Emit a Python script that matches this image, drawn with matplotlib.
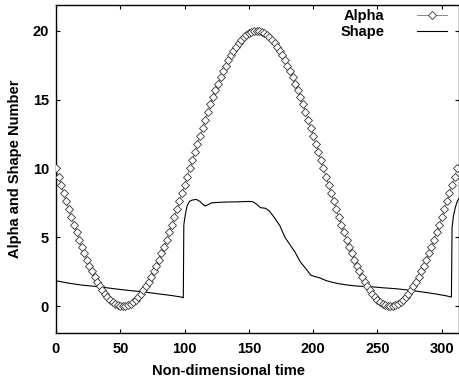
import numpy as np
import matplotlib
matplotlib.use("Agg")
import matplotlib.pyplot as plt

plt.rcParams['font.family'] = ['Liberation Sans', 'DejaVu Sans']
plt.rcParams['font.weight'] = 'bold'

alpha_t = np.arange(0, 314, 2)
alpha = [10.0, 9.40, 8.80, 8.20, 7.61, 7.03, 6.45, 5.90, 5.35, 4.83, 4.32, 3.83, 3.37, 2.93,
         2.52, 2.13, 1.77, 1.44, 1.15, 0.88, 0.65, 0.45, 0.29, 0.16, 0.07, 0.02, 0.00,
         0.02, 0.07, 0.16, 0.29, 0.45, 0.65, 0.88, 1.15, 1.44, 1.77, 2.13, 2.52, 2.93,
         3.37, 3.83, 4.32, 4.83, 5.35, 5.90, 6.45, 7.03, 7.61, 8.20, 8.80, 9.40, 10.0,
         10.60, 11.20, 11.80, 12.39, 12.97, 13.55, 14.10, 14.65, 15.17, 15.68, 16.17,
         16.63, 17.07, 17.48, 17.87, 18.23, 18.56, 18.85, 19.12, 19.35, 19.55, 19.71,
         19.84, 19.93, 19.98, 20.0,
         19.98, 19.93, 19.84, 19.71, 19.55, 19.35, 19.12, 18.85, 18.56, 18.23, 17.87,
         17.48, 17.07, 16.63, 16.17, 15.68, 15.17, 14.65, 14.10, 13.55, 12.97, 12.39,
         11.80, 11.20, 10.60, 10.0,
         9.40, 8.80, 8.20, 7.61, 7.03, 6.45, 5.90, 5.35, 4.83, 4.32, 3.83, 3.37, 2.93,
         2.52, 2.13, 1.77, 1.44, 1.15, 0.88, 0.65, 0.45, 0.29, 0.16, 0.07, 0.02, 0.00,
         0.02, 0.07, 0.16, 0.29, 0.45, 0.65, 0.88, 1.15, 1.44, 1.77, 2.13, 2.52, 2.93,
         3.37, 3.83, 4.32, 4.83, 5.35, 5.90, 6.45, 7.03, 7.61, 8.20, 8.80, 9.40, 10.0]

# Shape number
shape_t = [0, 10, 20, 30, 40, 50, 60, 70, 80, 90, 97.5, 99, 99.4, 100.5, 102, 104, 106,
           109, 112, 114, 116, 118, 121, 130, 140, 150, 153, 156, 159, 163, 166, 170,
           174, 178, 182, 186, 190, 194, 198, 201, 205, 210, 215, 220, 227, 234, 245,
           255, 265, 275, 285, 295, 303, 307.5, 308, 309, 310.5, 312, 314]
shape = [1.83, 1.66, 1.52, 1.43, 1.32, 1.20, 1.10, 1.00, 0.88, 0.76, 0.65, 0.60, 5.9,
         6.6, 7.3, 7.62, 7.70, 7.75, 7.60, 7.40, 7.27, 7.35, 7.50, 7.55, 7.57, 7.60,
         7.58, 7.40, 7.15, 7.10, 6.90, 6.40, 5.85, 5.00, 4.45, 3.90, 3.20, 2.75, 2.25,
         2.15, 2.05, 1.85, 1.72, 1.62, 1.52, 1.45, 1.40, 1.32, 1.25, 1.15, 1.02, 0.88,
         0.75, 0.65, 5.7, 6.5, 7.15, 7.6, 7.9]

fig = plt.figure(figsize=(4.59, 3.84), dpi=100)
ax = fig.add_axes([56 / 459, (384 - 332.7) / 384, 403 / 459, 328 / 384])

ax.plot(alpha_t, alpha, color='0.45', lw=0.6, marker='D', markersize=4.4,
        markerfacecolor='white', markeredgecolor='0.2', markeredgewidth=0.6,
        label='Alpha', zorder=3)
ax.plot(shape_t, shape, color='black', lw=0.8, label='Shape', zorder=2)

ax.set_xlim(0, 313.4)
ax.set_ylim(-1.94, 21.9)
ax.set_xticks([0, 50, 100, 150, 200, 250, 300])
ax.set_yticks([0, 5, 10, 15, 20])
ax.tick_params(direction='in', top=True, right=True, length=3, width=0.8,
               labelsize=10.5)
ax.tick_params(axis='x', pad=7)
ax.tick_params(axis='y', pad=5)
for s in ax.spines.values():
    s.set_linewidth(1.0)

ax.set_xlabel('Non-dimensional time', fontsize=10.5, fontweight='bold')
ax.xaxis.set_label_coords((228 - 56) / 403, -0.095)
ax.set_ylabel('Alpha and Shape Number', fontsize=10.5, fontweight='bold', labelpad=8)

ax.legend(loc='upper right', bbox_to_anchor=(0.978, 0.995), frameon=False,
          markerfirst=False, fontsize=10.5, handlelength=2.1, handletextpad=2.2,
          labelspacing=0.12, borderaxespad=0, borderpad=0.2)

fig.savefig('out.png', dpi=100)
